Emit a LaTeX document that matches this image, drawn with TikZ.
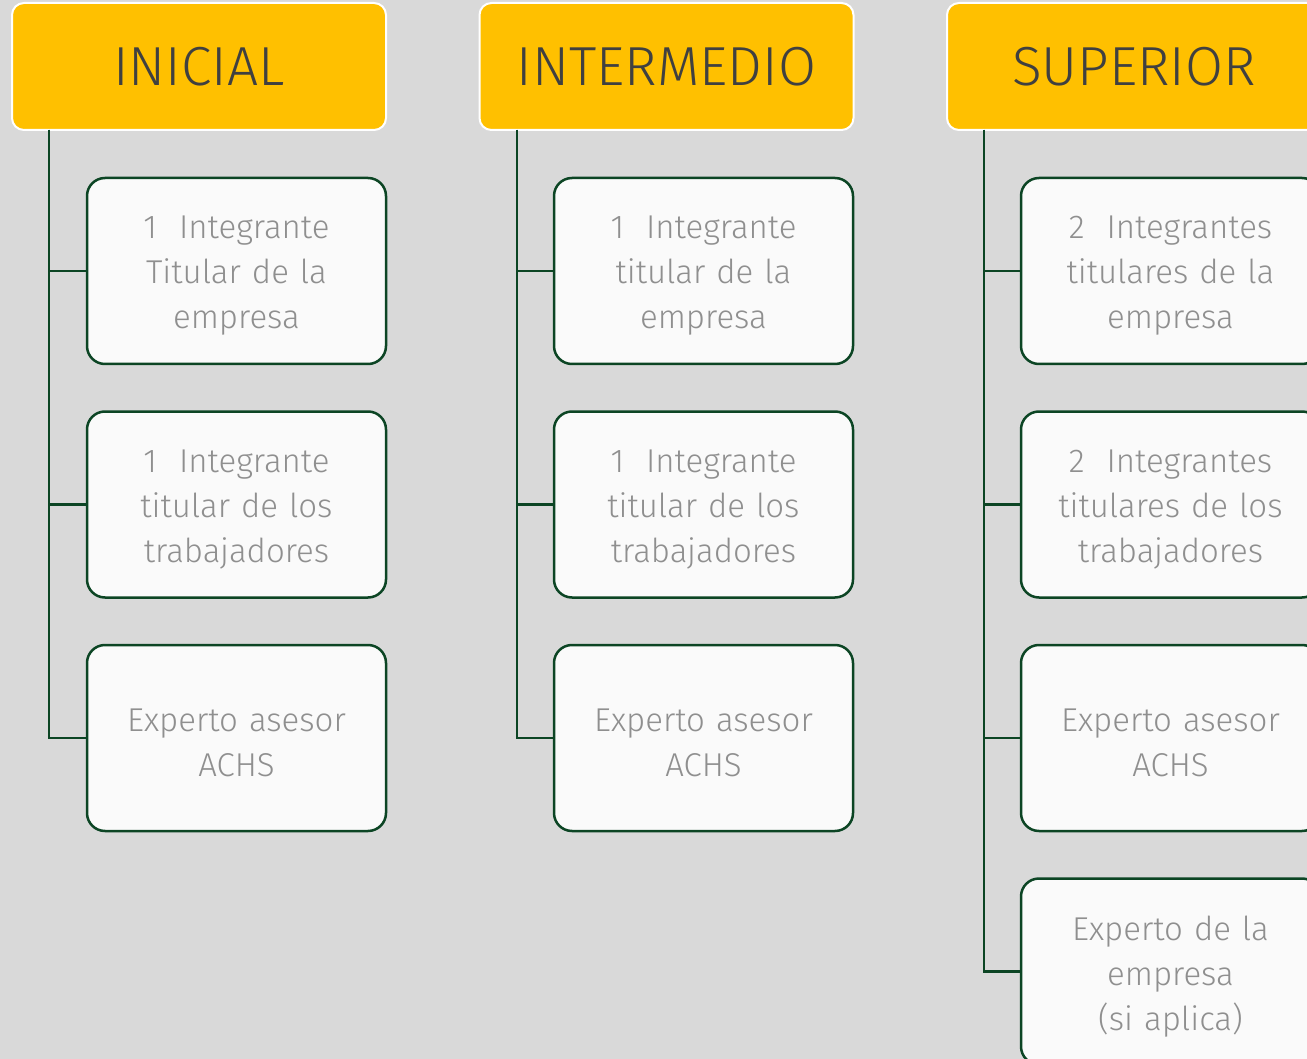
\documentclass[tikz,border=0pt]{standalone}
\usepackage{fontspec}
\setmainfont{Fira Sans Light}
\definecolor{bg}{HTML}{D9D9D9}
\definecolor{hdrfill}{HTML}{FFC000}
\definecolor{hdrtext}{HTML}{404040}
\definecolor{boxfill}{HTML}{FAFAFA}
\definecolor{boxline}{HTML}{0C4524}
\definecolor{boxtext}{HTML}{8F8F8F}
\tikzset{
  hdr/.style={draw=white, line width=2pt, fill=hdrfill, rounded corners=12pt,
    minimum width=374pt, minimum height=127pt, inner sep=0pt,
    text=hdrtext, font=\fontsize{55}{62}\selectfont},
  lbl/.style={align=center, text width=290pt, inner sep=0pt, yshift=-5pt,
    text=boxtext, font=\fontsize{33}{45}\selectfont},
  item/.style={draw=boxline, line width=2.5pt, fill=boxfill, rounded corners=18pt,
    minimum width=299pt, minimum height=186pt, inner sep=0pt,
    label={[lbl]center:{#1}}},
  conn/.style={draw=boxline, line width=2.5pt}
}
\begin{document}
\begin{tikzpicture}[x=1pt,y=-1pt]
\fill[bg] (0,0) rectangle (1307,1059);
\useasboundingbox (0,0) rectangle (1307,1059);
\clip (0,0) rectangle (1307,1059);
% headers
\node[hdr] (h1) at (199,66.5) {INICIAL};
\node[hdr] (h2) at (666.5,66.5) {INTERMEDIO};
\node[hdr] (h3) at (1134,66.5) {SUPERIOR};
% connector start points
\coordinate (v1) at (49,130);
\coordinate (v2) at (517,130);
\coordinate (v3) at (984,130);
% column 1
\node[item={1~~Integrante\\Titular de la\\empresa}] (a1) at (236.5,271) {};
\node[item={1~~Integrante\\titular de los\\trabajadores}] (a2) at (236.5,504.5) {};
\node[item={Experto asesor\\ACHS}] (a3) at (236.5,738) {};
% column 2
\node[item={1~~Integrante\\titular de la\\empresa}] (b1) at (703.5,271) {};
\node[item={1~~Integrante\\titular de los\\trabajadores}] (b2) at (703.5,504.5) {};
\node[item={Experto asesor\\ACHS}] (b3) at (703.5,738) {};
% column 3
\node[item={2~~Integrantes\\titulares de la\\empresa}] (c1) at (1170.5,271) {};
\node[item={2~~Integrantes\\titulares de los\\trabajadores}] (c2) at (1170.5,504.5) {};
\node[item={Experto asesor\\ACHS}] (c3) at (1170.5,738) {};
\node[item={Experto de la\\empresa\\(si aplica)}] (c4) at (1170.5,971.5) {};
% connectors
\foreach \v/\n in {v1/a1, v1/a2, v1/a3, v2/b1, v2/b2, v2/b3, v3/c1, v3/c2, v3/c3, v3/c4}
  \draw[conn] (\v) |- (\n.west);
\end{tikzpicture}
\end{document}
